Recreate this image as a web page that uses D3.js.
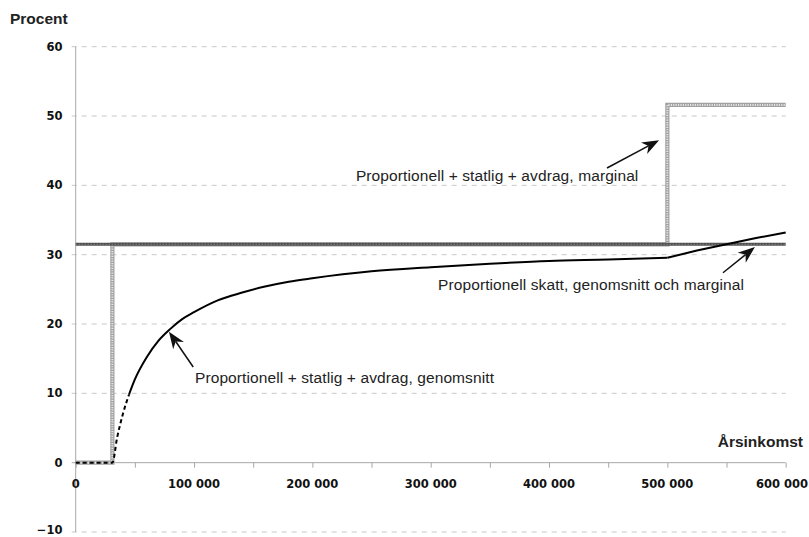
<!DOCTYPE html>
<html><head><meta charset="utf-8">
<script src="https://cdn.jsdelivr.net/npm/d3@7"></script>
<style>body{margin:0;background:#fff}svg{display:block}</style>
</head><body>
<svg id="c" width="809" height="537"></svg>
<script>
// ---- data ----
const yTicks = [-10, 0, 10, 20, 30, 40, 50, 60];
const xTicks = [0, 100000, 200000, 300000, 400000, 500000, 600000];
const xMinorTicks = [50000, 150000, 250000, 350000, 450000, 550000];
// Proportionell skatt, genomsnitt och marginal
const propX = [0, 600000];
const propY = [31.5, 31.5];
// Proportionell + statlig + avdrag, marginal (step)
const margX = [0, 31000, 31000, 500000, 500000, 600000];
const margY = [0, 0, 31.5, 31.5, 51.6, 51.6];
// Proportionell + statlig + avdrag, genomsnitt
const avgX = [0, 31000, 35000, 40000, 45000, 50000, 60000, 70000, 80000, 90000, 100000, 120000, 140000, 160000, 180000, 200000, 250000, 300000, 350000, 400000, 450000, 500000, 525000, 550000, 575000, 600000];
const avgY = [0, 0, 3.6, 7.1, 9.8, 12.0, 15.2, 17.6, 19.3, 20.7, 21.7, 23.4, 24.5, 25.4, 26.1, 26.6, 27.6, 28.2, 28.7, 29.1, 29.3, 29.55, 30.6, 31.5, 32.4, 33.2];
const avgDashedUntil = 45000;
const avgKinkAt = 500000;
const annotations = [
  {text: "Proportionell + statlig + avdrag, marginal", tx: 236800, ty: 40.6, from: [449000, 42.5], to: [493000, 46.5]},
  {text: "Proportionell skatt, genomsnitt och marginal", tx: 306200, ty: 24.9, from: [547000, 27.4], to: [574000, 31.1]},
  {text: "Proportionell + statlig + avdrag, genomsnitt", tx: 100800, ty: 11.5, from: [99300, 13.8], to: [78800, 18.9]}
];

// ---- chart ----
const svg = d3.select("#c");
const x = d3.scaleLinear().domain([0, 600000]).range([75.7, 785.7]);
const y = d3.scaleLinear().domain([-10, 60]).range([532, 46.7]);
const fmt = v => d3.format(",")(v).replace(/,/g, " ");

// gridlines
svg.append("g").selectAll("line").data(yTicks.filter(d => d !== 0)).join("line")
  .attr("x1", x(0) - 4).attr("x2", x(600000)).attr("y1", d => y(d)).attr("y2", d => y(d))
  .attr("stroke", "#c8c8c8").attr("stroke-width", 1).attr("stroke-dasharray", "5,5");

// y axis line
svg.append("line").attr("x1", x(0)).attr("x2", x(0)).attr("y1", y(60)).attr("y2", y(-10))
  .attr("stroke", "#a8a8a8").attr("stroke-width", 1);

// x axis at 0
const xAxis = d3.axisBottom(x).tickValues(xTicks.concat(xMinorTicks)).tickSize(5).tickFormat("");
const gx = svg.append("g").attr("transform", `translate(0,${y(0)})`).call(xAxis);
gx.select(".domain").attr("stroke", "#a8a8a8").attr("d", `M${x(0) - 4},0H${x(600000)}`);
gx.selectAll(".tick line").attr("stroke", "#a8a8a8");

// x labels
svg.append("g").selectAll("text").data(xTicks).join("text")
  .attr("x", d => d === 600000 ? 808 : x(d)).attr("y", 488)
  .attr("text-anchor", d => d === 600000 ? "end" : "middle")
  .attr("font-family", "DejaVu Sans").attr("font-weight", "bold").attr("font-size", 11.5).attr("fill", "#111")
  .text(d => fmt(d));

// y labels
svg.append("g").selectAll("text").data(yTicks).join("text")
  .attr("x", 62.5).attr("y", d => Math.min(y(d) + 4, 533.5)).attr("text-anchor", "end")
  .attr("font-family", "DejaVu Sans").attr("font-weight", "bold").attr("font-size", 11.5).attr("fill", "#111")
  .text(d => d < 0 ? "\u2212" + Math.abs(d) : d);

// axis titles
svg.append("text").attr("x", 10).attr("y", 24).attr("font-family", "Liberation Sans, Arial").attr("font-weight", "bold")
  .attr("font-size", 15.5).attr("fill", "#222").text("Procent");
svg.append("text").attr("x", 803).attr("y", 446.5).attr("text-anchor", "end").attr("font-family", "Liberation Sans, Arial")
  .attr("font-weight", "bold").attr("font-size", 15.5).attr("fill", "#222").text("Årsinkomst");

const line = d3.line().x(d => x(d[0])).y(d => y(d[1]));

// marginal step line (light gray textured)
const margPts = margX.map((v, i) => [v, margY[i]]);
svg.append("path").attr("d", line(margPts)).attr("fill", "none").attr("stroke", "#a0a0a0").attr("stroke-width", 4.2);
svg.append("path").attr("d", line(margPts)).attr("fill", "none").attr("stroke", "#e6e6e6").attr("stroke-width", 2).attr("stroke-dasharray", "1.2,1.2");

// proportional line (dark gray textured)
const propPts = propX.map((v, i) => [v, propY[i]]);
svg.append("path").attr("d", line(propPts)).attr("fill", "none").attr("stroke", "#505050").attr("stroke-width", 3);
svg.append("path").attr("d", line(propPts)).attr("fill", "none").attr("stroke", "#9a9a9a").attr("stroke-width", 1).attr("stroke-dasharray", "1,2");

// average line (black, dashed start, kink at 500 000)
const avgPts = avgX.map((v, i) => [v, avgY[i]]);
const curve = d3.line().x(d => x(d[0])).y(d => y(d[1])).curve(d3.curveMonotoneX);
svg.append("path").attr("d", curve(avgPts.filter(d => d[0] <= avgDashedUntil)))
  .attr("fill", "none").attr("stroke", "#000").attr("stroke-width", 2).attr("stroke-dasharray", "4,3");
svg.append("path").attr("d", curve(avgPts.filter(d => d[0] >= avgDashedUntil && d[0] <= avgKinkAt)))
  .attr("fill", "none").attr("stroke", "#000").attr("stroke-width", 2);
svg.append("path").attr("d", line(avgPts.filter(d => d[0] >= avgKinkAt)))
  .attr("fill", "none").attr("stroke", "#000").attr("stroke-width", 2).attr("stroke-linejoin", "round");

// annotations
annotations.forEach(a => {
  svg.append("text").attr("x", x(a.tx)).attr("y", y(a.ty)).attr("font-family", "Liberation Sans, Arial")
    .attr("font-size", 15.5).attr("letter-spacing", 0.1).attr("fill", "#222").text(a.text);
  const x1 = x(a.from[0]), y1 = y(a.from[1]), x2 = x(a.to[0]), y2 = y(a.to[1]);
  const ang = Math.atan2(y2 - y1, x2 - x1);
  const L = 17, W = 6.5, notch = 12;
  const bx = x2 - L * Math.cos(ang), by = y2 - L * Math.sin(ang);
  const nx = x2 - notch * Math.cos(ang), ny = y2 - notch * Math.sin(ang);
  const px = -Math.sin(ang), py = Math.cos(ang);
  svg.append("line").attr("x1", x1).attr("y1", y1).attr("x2", nx).attr("y2", ny).attr("stroke", "#111").attr("stroke-width", 1.5);
  svg.append("path").attr("d", `M${x2},${y2}L${bx + px * W},${by + py * W}L${nx},${ny}L${bx - px * W},${by - py * W}Z`).attr("fill", "#111");
});
</script>
</body></html>
